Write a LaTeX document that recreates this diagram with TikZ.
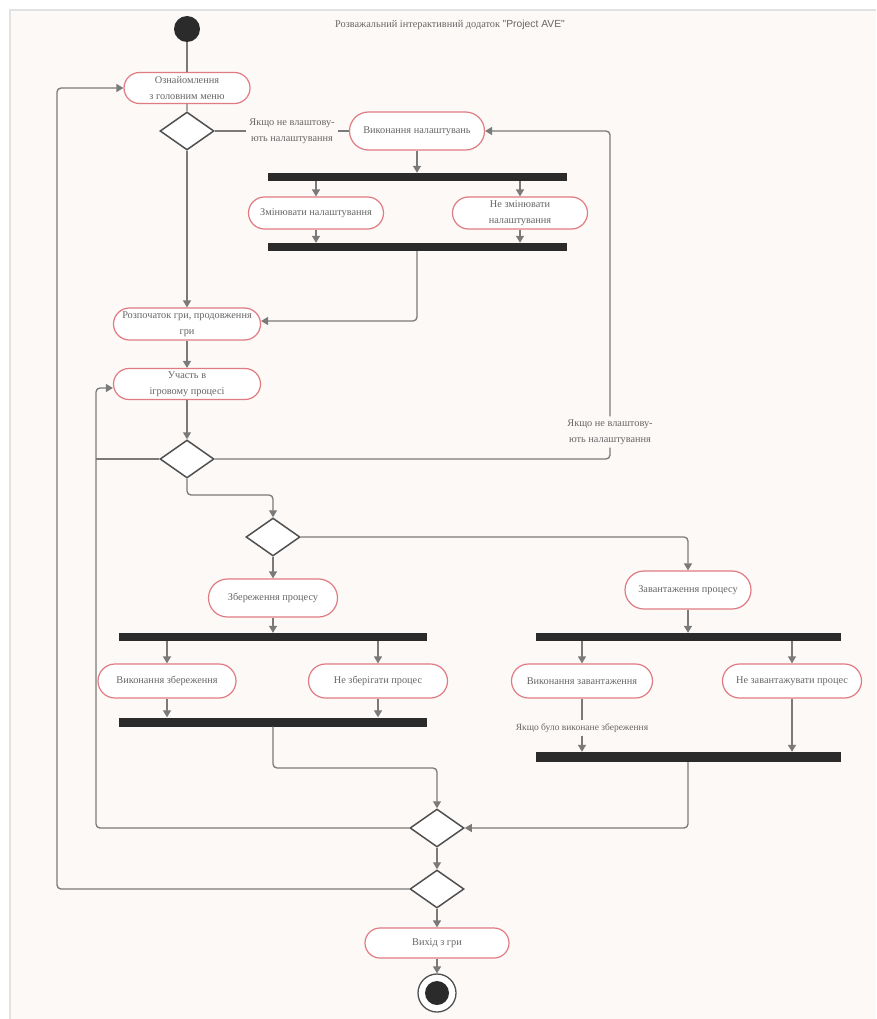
\documentclass[tikz,border=0pt]{standalone}
\usepackage{fontspec}
\setmainfont{Liberation Serif}
\newfontfamily\titlesans{Liberation Sans}
\usetikzlibrary{arrows.meta,shapes.misc,shapes.geometric}
\definecolor{bgc}{HTML}{FCF9F7}
\definecolor{framec}{HTML}{E2E2E2}
\definecolor{linec}{HTML}{7A7A7A}
\definecolor{boxc}{HTML}{E07B82}
\definecolor{txtc}{HTML}{666666}
\definecolor{darkc}{HTML}{2B2B2B}
\definecolor{diac}{HTML}{505050}
\tikzset{
  act/.style={rounded rectangle, draw=boxc, line width=1.2pt, fill=white, text=txtc,
    font=\fontsize{10.3}{16}\selectfont, align=center, inner sep=2pt},
  dec/.style={diamond, draw=diac, line width=1.5pt, fill=white, minimum width=54pt,
    minimum height=38pt, inner sep=0pt},
  bar/.style={rectangle, fill=darkc, minimum width=299pt, minimum height=8pt, inner sep=0pt},
  lbl/.style={text=txtc, font=\fontsize{10.3}{16}\selectfont, align=center, inner sep=3pt},
  conn/.style={draw=linec, line width=1.3pt, rounded corners=4pt},
  arr/.style={conn, -{Triangle[width=8pt,length=7pt]}},
}
\begin{document}
\begin{tikzpicture}[x=1pt,y=-1pt]
\useasboundingbox (0,0) rectangle (876,1019);
\fill[white] (0,0) rectangle (876,1019);
\fill[bgc] (10,10) rectangle (876,1019);
\draw[framec, line width=1.5pt] (10,1019) -- (10,10) -- (876,10);

\node[text=txtc, font=\fontsize{10.3}{12}\selectfont] (title) at (450,25)
  {Розважальний інтерактивний додаток {\titlesans "Project AVE"}};

% start
\node[circle, fill=darkc, minimum size=26pt, inner sep=0pt] (init) at (187,29) {};

\node[act, minimum width=130pt, minimum height=31pt] (menu) at (187,88) {Ознайомлення\\з головним меню};
\node[dec] (d1) at (187,131) {};
\node[lbl] (l1) at (292,131) {Якщо не влаштову-\\ють налаштування};
\node[act, minimum width=139pt, minimum height=38pt] (sett) at (417,131) {Виконання налаштувань};
\node[bar] (b1) at (417,177) {};
\node[act, minimum width=139pt, minimum height=32pt] (chg) at (316,213) {Змінювати налаштування};
\node[act, minimum width=139pt, minimum height=32pt] (nochg) at (520,213) {Не змінювати\\налаштування};
\node[bar] (b2) at (417,247) {};

\node[act, minimum width=151pt, minimum height=32pt] (game) at (187,324) {Розпочаток гри, продовження\\гри};
\node[act, minimum width=151pt, minimum height=31pt] (play) at (187,384) {Участь в\\ігровому процесі};
\node[dec] (d2) at (187,459) {};
\node[lbl] (l2) at (610,432) {Якщо не влаштову-\\ють налаштування};

\node[dec] (d3) at (273,537) {};
\node[act, minimum width=133pt, minimum height=38pt] (save) at (273,598) {Збереження процесу};
\node[act, minimum width=130pt, minimum height=38pt] (load) at (688,590) {Завантаження процесу};

\node[bar, minimum width=308pt] (b3) at (273,637) {};
\node[act, minimum width=142pt, minimum height=34pt] (esave) at (167,681) {Виконання збереження};
\node[act, minimum width=143pt, minimum height=34pt] (nsave) at (378,681) {Не зберігати процес};
\node[bar, minimum width=308pt, minimum height=9pt] (b4) at (273,722) {};

\node[bar, minimum width=305pt] (b5) at (688,637) {};
\node[act, minimum width=145pt, minimum height=34pt] (eload) at (582,681) {Виконання завантаження};
\node[act, minimum width=143pt, minimum height=34pt] (nload) at (792,681) {Не завантажувати процес};
\node[lbl, font=\fontsize{9.5}{11}\selectfont] (l3) at (582,728) {Якщо було виконане збереження};
\node[bar, minimum width=305pt, minimum height=10pt] (b6) at (688,757) {};

\node[dec] (d5) at (437,828) {};
\node[dec] (d6) at (437,889) {};
\node[act, minimum width=148pt, minimum height=30pt] (exit) at (437,943) {Вихід з гри};
\node[circle, draw=diac, line width=1.3pt, fill=white, minimum size=38pt, inner sep=0pt] (fin) at (437,993) {};
\node[circle, fill=darkc, minimum size=24pt, inner sep=0pt] (finin) at (437,993) {};

% connectors
\draw[conn] (init) -- (menu);
\draw[conn] (menu) -- (d1);
\draw[conn] (d1.east) -- (l1.west);
\draw[conn] (l1.east) -- (sett.west);
\draw[arr] (sett.south) -- (sett.south |- b1.north);
\draw[arr] (chg.north |- b1.south) -- (chg.north);
\draw[arr] (nochg.north |- b1.south) -- (nochg.north);
\draw[arr] (chg.south) -- (chg.south |- b2.north);
\draw[arr] (nochg.south) -- (nochg.south |- b2.north);
\draw[arr] (b2.south) -- (417,321) -- (game.east |- 0,321);
\draw[arr] (d1.south) -- (game.north);
\draw[arr] (game.south) -- (play.north);
\draw[arr] (play.south) -- (d2.north);
\draw[conn] (d2.west) -- (96,459);
\draw[arr] (d5.west) -- (96,828) -- (96,388) -- (play.west |- 0,388);
\draw[conn] (d2.east) -- (610,459) -- (l2.south);
\draw[arr] (l2.north) -- (610,131) -- (sett.east);
\draw[arr] (d2.south) -- (187,495) -- (273,495) -- (d3.north);
\draw[arr] (d3.east) -- (688,537) -- (load.north);
\draw[arr] (d3.south) -- (save.north);
\draw[arr] (save.south) -- (save.south |- b3.north);
\draw[arr] (esave.north |- b3.south) -- (esave.north);
\draw[arr] (nsave.north |- b3.south) -- (nsave.north);
\draw[arr] (esave.south) -- (esave.south |- b4.north);
\draw[arr] (nsave.south) -- (nsave.south |- b4.north);
\draw[arr] (b4.south) -- (273,768) -- (437,768) -- (d5.north);
\draw[arr] (load.south) -- (load.south |- b5.north);
\draw[arr] (eload.north |- b5.south) -- (eload.north);
\draw[arr] (nload.north |- b5.south) -- (nload.north);
\draw[conn] (eload.south) -- (l3.north);
\draw[arr] (l3.south) -- (l3.south |- b6.north);
\draw[arr] (nload.south) -- (nload.south |- b6.north);
\draw[arr] (b6.south) -- (688,828) -- (d5.east);
\draw[arr] (d5.south) -- (d6.north);
\draw[arr] (d6.west) -- (57,889) -- (57,88) -- (menu.west);
\draw[arr] (d6.south) -- (exit.north);
\draw[arr] (exit.south) -- (fin.north);
\end{tikzpicture}
\end{document}
